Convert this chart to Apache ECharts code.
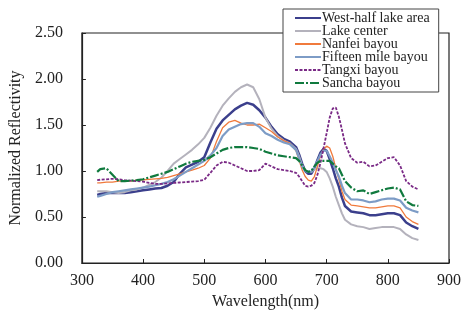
<!DOCTYPE html>
<html>
<head>
<meta charset="utf-8">
<script src="https://cdn.jsdelivr.net/npm/echarts@6/dist/echarts.min.js"></script>
<style>
  html, body { margin: 0; padding: 0; background: #fff; }
  #chart { width: 464px; height: 325px; }
</style>
</head>
<body>
<div id="chart"></div>
<script>
// Wavelengths (nm) shared by every series
const WAVELENGTH = [
  325, 330, 340, 350, 360, 370, 380, 390, 400, 410, 420, 430, 440, 450, 460, 470, 480, 490,
  500, 510, 520, 530, 540, 550, 560, 570, 580, 590, 600, 610, 620, 630, 640, 650,
  655, 660, 665, 670, 675, 680, 685, 690, 695, 700, 705, 710, 715, 720, 725, 730,
  740, 750, 760, 770, 780, 790, 800, 810, 820, 830, 840, 850
];

const WEST_HALF = [
  0.74, 0.75, 0.76, 0.76, 0.76, 0.76, 0.77, 0.78, 0.79, 0.80, 0.81, 0.815, 0.84, 0.88, 0.97, 1.04, 1.07, 1.10,
  1.15, 1.31, 1.46, 1.55, 1.61, 1.67, 1.71, 1.74, 1.72, 1.66, 1.58, 1.48, 1.40, 1.35, 1.32, 1.26,
  1.18, 1.08, 1.00, 0.97, 0.97, 1.03, 1.12, 1.20, 1.24, 1.22, 1.13, 1.03, 0.92, 0.83, 0.71, 0.62,
  0.56, 0.55, 0.54, 0.52, 0.52, 0.53, 0.54, 0.54, 0.52, 0.44, 0.40, 0.37
];

const LAKE_CENTER = [
  0.78, 0.78, 0.78, 0.77, 0.76, 0.77, 0.79, 0.80, 0.82, 0.85, 0.88, 0.93, 1.00, 1.08, 1.13, 1.18, 1.23, 1.29,
  1.36, 1.47, 1.60, 1.71, 1.79, 1.86, 1.91, 1.94, 1.91, 1.78, 1.58, 1.46, 1.38, 1.33, 1.30, 1.24,
  1.16, 1.06, 1.01, 0.99, 0.99, 1.02, 1.03, 1.03, 1.02, 0.99, 0.92, 0.83, 0.72, 0.63, 0.54, 0.47,
  0.42, 0.40, 0.39, 0.37, 0.38, 0.39, 0.39, 0.39, 0.37, 0.31, 0.27, 0.25
];

const NANFEI = [
  0.87, 0.87, 0.88, 0.88, 0.89, 0.89, 0.89, 0.90, 0.905, 0.91, 0.915, 0.92, 0.93, 0.95, 0.97, 0.99, 1.01, 1.03,
  1.06, 1.14, 1.32, 1.47, 1.53, 1.55, 1.52, 1.50, 1.50, 1.51, 1.47, 1.43, 1.37, 1.33, 1.30, 1.22,
  1.12, 1.01, 0.94, 0.90, 0.89, 0.94, 1.05, 1.17, 1.24, 1.27, 1.25, 1.16, 1.03, 0.91, 0.78, 0.69,
  0.63, 0.62, 0.61, 0.60, 0.60, 0.61, 0.62, 0.62, 0.60, 0.50, 0.45, 0.42
];

const FIFTEEN_MILE = [
  0.72, 0.73, 0.75, 0.77, 0.78, 0.79, 0.80, 0.81, 0.82, 0.83, 0.845, 0.86, 0.88, 0.91, 0.95, 0.99, 1.03, 1.07,
  1.11, 1.17, 1.25, 1.38, 1.45, 1.48, 1.51, 1.52, 1.52, 1.48, 1.41, 1.38, 1.34, 1.31, 1.29, 1.23,
  1.14, 1.05, 1.00, 0.99, 0.99, 1.04, 1.11, 1.18, 1.22, 1.22, 1.16, 1.09, 1.01, 0.94, 0.84, 0.76,
  0.69, 0.69, 0.68, 0.66, 0.67, 0.69, 0.70, 0.70, 0.68, 0.60, 0.57, 0.55
];

const TANGXI = [
  0.90, 0.905, 0.91, 0.915, 0.91, 0.90, 0.895, 0.89, 0.885, 0.87, 0.86, 0.86, 0.865, 0.87, 0.875, 0.88, 0.885, 0.89,
  0.905, 0.98, 1.06, 1.10, 1.09, 1.06, 1.03, 1.00, 1.00, 1.01, 1.08, 1.05, 1.02, 1.01, 1.00, 0.98,
  0.94, 0.89, 0.84, 0.83, 0.84, 0.87, 0.96, 1.09, 1.25, 1.41, 1.58, 1.68, 1.69, 1.59, 1.45, 1.30,
  1.14, 1.09, 1.10, 1.05, 1.06, 1.10, 1.14, 1.15, 1.06, 0.89, 0.83, 0.80
];

const SANCHA = [
  0.99, 1.02, 1.03, 0.96, 0.89, 0.89, 0.895, 0.90, 0.91, 0.93, 0.95, 0.97, 0.99, 1.02, 1.05, 1.08, 1.10, 1.11,
  1.12, 1.15, 1.19, 1.23, 1.25, 1.26, 1.26, 1.26, 1.25, 1.24, 1.21, 1.19, 1.17, 1.16, 1.15, 1.14,
  1.11, 1.06, 1.01, 0.99, 1.00, 1.05, 1.09, 1.11, 1.11, 1.11, 1.11, 1.08, 1.05, 1.03, 0.96, 0.89,
  0.82, 0.78, 0.79, 0.75, 0.77, 0.79, 0.81, 0.82, 0.80, 0.67, 0.63, 0.62
];

const FONT = "'Liberation Serif', 'Times New Roman', serif";

// series look: name, values, colour, width, dash
const SERIES = [
  ["West-half lake area", WEST_HALF, "#3b3f8c", 2.5, "solid"],
  ["Lake center", LAKE_CENTER, "#b4b2bc", 2, "solid"],
  ["Nanfei bayou", NANFEI, "#f07a3c", 1.3, "solid"],
  ["Fifteen mile bayou", FIFTEEN_MILE, "#7d9cc6", 2.2, "solid"],
  ["Tangxi bayou", TANGXI, "#7a2a86", 1.8, [3, 1.5]],
  ["Sancha bayou", SANCHA, "#107a3e", 2.2, [9, 2, 2, 2]]
];

function pairs(vals) {
  return WAVELENGTH.map((w, i) => [w, vals[i]]);
}

const chart = echarts.init(document.getElementById("chart"), null, { renderer: "canvas" });

chart.setOption({
  animation: false,
  backgroundColor: "#fff",
  grid: {
    left: 77, right: 12, top: 33, bottom: 62,
    show: true, borderColor: "#222", borderWidth: 1.2, backgroundColor: "transparent"
  },
  legend: {
    orient: "vertical",
    left: 283, top: 9,
    padding: [2, 9, 2, 11],
    itemGap: -1,
    itemWidth: 26,
    itemHeight: 13,
    backgroundColor: "#fff",
    borderColor: "#444",
    borderWidth: 1,
    z: 10,
    // hide the symbol that line legends draw in the middle of the icon
    itemStyle: { color: "rgba(0,0,0,0)", borderColor: "rgba(0,0,0,0)", borderWidth: 0 },
    textStyle: { fontFamily: FONT, fontSize: 14, color: "#222", lineHeight: 13, padding: [0, 0, 0, -4] },
    data: SERIES.map(s => s[0])
  },
  xAxis: {
    type: "value",
    min: 300, max: 900, interval: 100,
    name: "Wavelength(nm)",
    nameLocation: "middle",
    nameGap: 30,
    nameTextStyle: { fontFamily: FONT, fontSize: 16, color: "#222" },
    axisLine: { show: true, lineStyle: { color: "#222", width: 1.2 } },
    axisTick: { show: true, inside: true, length: 4, lineStyle: { color: "#222" } },
    axisLabel: { fontFamily: FONT, fontSize: 16, color: "#222", margin: 10 },
    splitLine: { show: false }
  },
  yAxis: {
    type: "value",
    min: 0, max: 2.5, interval: 0.5,
    name: "Normalized Reflectivity",
    nameLocation: "middle",
    nameGap: 52,
    nameTextStyle: { fontFamily: FONT, fontSize: 16, color: "#222" },
    axisLine: { show: true, lineStyle: { color: "#222", width: 1.2 } },
    axisTick: { show: true, inside: true, length: 4, lineStyle: { color: "#222" } },
    axisLabel: { fontFamily: FONT, fontSize: 16, color: "#222", margin: 19, formatter: v => v.toFixed(2) },
    splitLine: { show: false }
  },
  series: SERIES.map(([name, vals, color, width, dash]) => ({
    name,
    type: "line",
    data: pairs(vals),
    symbol: "none",
    showSymbol: false,
    itemStyle: { color },
    lineStyle: { color, width, type: dash }
  }))
});
</script>
</body>
</html>
